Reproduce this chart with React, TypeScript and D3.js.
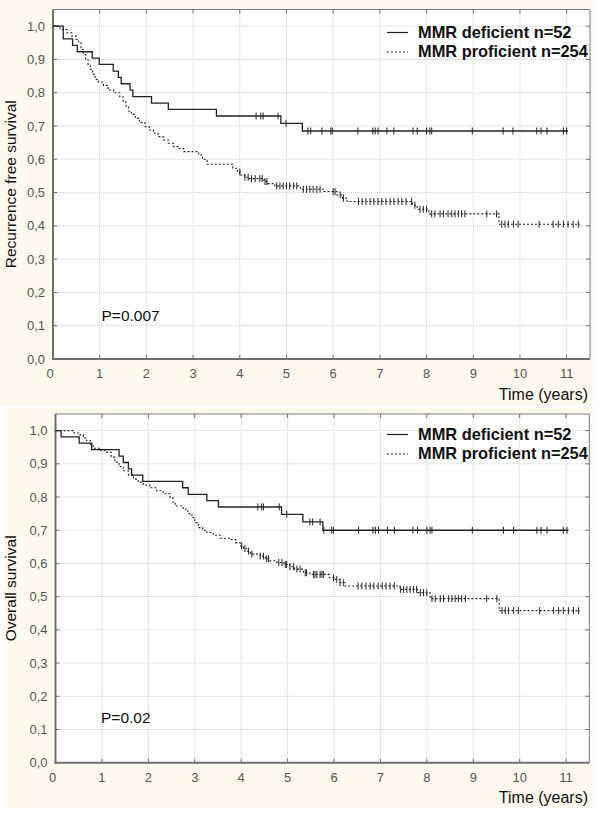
import React from "react";
import * as d3 from "d3";

// ---------- data ----------
const xTicks = [0, 1, 2, 3, 4, 5, 6, 7, 8, 9, 10, 11];
const yTicks = [0, 0.1, 0.2, 0.3, 0.4, 0.5, 0.6, 0.7, 0.8, 0.9, 1.0];
const yTickLabels = ["0,0", "0,1", "0,2", "0,3", "0,4", "0,5", "0,6", "0,7", "0,8", "0,9", "1,0"];
const seriesNames = ["MMR deficient n=52", "MMR proficient n=254"];

// Recurrence free survival - MMR deficient
const rfsDefTime = [0, 0.22, 0.42, 0.52, 0.84, 0.99, 1.29, 1.4, 1.46, 1.65, 1.71, 2.11, 2.47, 3.5, 4.88, 5.34];
const rfsDefSurv = [1.0, 0.962, 0.942, 0.923, 0.904, 0.885, 0.865, 0.846, 0.827, 0.808, 0.788, 0.769, 0.75, 0.73, 0.708, 0.685];
const rfsDefCens = [4.35, 4.45, 4.5, 4.82, 4.99, 5.46, 5.52, 5.76, 5.95, 5.98, 6.53, 6.85, 6.9, 6.96, 7.15, 7.3, 7.71, 7.8, 8.0, 8.07, 8.11, 8.98, 9.64, 9.85, 10.36, 10.45, 10.58, 10.93, 11.0];
const rfsDefEnd = 11.03;

// Recurrence free survival - MMR proficient
const rfsProTime = [0, 0.15, 0.3, 0.4, 0.5, 0.55, 0.6, 0.65, 0.7, 0.75, 0.8, 0.85, 0.9, 0.97, 1.08, 1.18, 1.3, 1.43, 1.5, 1.56, 1.62, 1.68, 1.76, 1.85, 1.97, 2.06, 2.15, 2.25, 2.36, 2.47, 2.58, 2.7, 2.8, 3.12, 3.2, 3.3, 3.85, 3.95, 4.02, 4.1, 4.2, 4.52, 4.6, 4.75, 5.3, 5.8, 6.08, 6.2, 6.3, 7.7, 7.8, 8.05, 9.55];
const rfsProSurv = [1.0, 0.99, 0.98, 0.97, 0.96, 0.95, 0.93, 0.915, 0.9, 0.885, 0.87, 0.855, 0.84, 0.832, 0.822, 0.808, 0.8, 0.788, 0.775, 0.76, 0.745, 0.735, 0.723, 0.71, 0.698, 0.688, 0.678, 0.668, 0.658, 0.648, 0.638, 0.632, 0.623, 0.613, 0.6, 0.585, 0.573, 0.562, 0.553, 0.546, 0.542, 0.533, 0.527, 0.52, 0.51, 0.503, 0.493, 0.483, 0.473, 0.462, 0.45, 0.436, 0.405];
const rfsProCens = [4.0, 4.11, 4.18, 4.25, 4.33, 4.43, 4.48, 4.54, 4.58, 4.79, 4.86, 4.93, 5.0, 5.07, 5.15, 5.22, 5.36, 5.43, 5.5, 5.57, 5.65, 5.72, 6.0, 6.04, 6.15, 6.22, 6.54, 6.62, 6.7, 6.79, 6.87, 6.96, 7.04, 7.13, 7.22, 7.3, 7.39, 7.47, 7.56, 7.68, 7.75, 7.86, 7.93, 8.0, 8.11, 8.18, 8.29, 8.36, 8.46, 8.54, 8.61, 8.68, 8.75, 8.82, 9.29, 9.5, 9.61, 9.68, 9.75, 9.86, 9.96, 10.41, 10.71, 10.82, 10.93, 11.03, 11.14, 11.25];
const rfsProEnd = 11.28;

// Overall survival - MMR deficient
const osDefTime = [0, 0.12, 0.51, 0.78, 1.37, 1.46, 1.57, 1.64, 1.88, 2.74, 2.86, 3.26, 3.51, 4.87, 5.33, 5.76];
const osDefSurv = [1.0, 0.981, 0.962, 0.943, 0.923, 0.904, 0.885, 0.866, 0.847, 0.828, 0.808, 0.789, 0.77, 0.748, 0.725, 0.7];
const osDefCens = [4.36, 4.44, 4.48, 4.82, 4.98, 5.48, 5.54, 5.7, 5.78, 5.95, 5.99, 6.53, 6.84, 6.89, 6.96, 7.15, 7.3, 7.7, 7.8, 8.0, 8.07, 8.11, 8.98, 9.65, 9.87, 10.37, 10.46, 10.59, 10.94, 11.02];
const osDefEnd = 11.05;

// Overall survival - MMR proficient
const osProTime = [0, 0.4, 0.53, 0.6, 0.67, 0.75, 0.81, 0.95, 1.1, 1.2, 1.28, 1.37, 1.46, 1.57, 1.68, 1.78, 1.89, 2.03, 2.18, 2.32, 2.47, 2.53, 2.58, 2.75, 2.85, 2.94, 3.0, 3.08, 3.17, 3.26, 3.4, 3.55, 3.76, 3.88, 3.98, 4.05, 4.12, 4.2, 4.41, 4.52, 4.6, 4.77, 4.92, 5.05, 5.15, 5.34, 5.48, 5.9, 6.0, 6.13, 6.24, 7.42, 7.8, 8.07, 9.56];
const osProSurv = [1.0, 0.993, 0.987, 0.978, 0.97, 0.958, 0.947, 0.941, 0.935, 0.92, 0.905, 0.892, 0.879, 0.866, 0.854, 0.845, 0.836, 0.828, 0.819, 0.81, 0.799, 0.785, 0.773, 0.763, 0.75, 0.738, 0.723, 0.708, 0.7, 0.693, 0.685, 0.676, 0.672, 0.662, 0.653, 0.645, 0.637, 0.628, 0.622, 0.614, 0.608, 0.603, 0.597, 0.59, 0.583, 0.572, 0.567, 0.557, 0.552, 0.542, 0.532, 0.522, 0.512, 0.494, 0.458];
const osProCens = [4.01, 4.08, 4.16, 4.23, 4.41, 4.48, 4.55, 4.59, 4.81, 4.88, 4.95, 4.98, 5.05, 5.13, 5.2, 5.27, 5.38, 5.41, 5.56, 5.59, 5.63, 5.7, 5.74, 5.77, 5.99, 6.06, 6.13, 6.2, 6.52, 6.6, 6.69, 6.78, 6.86, 6.95, 7.04, 7.12, 7.21, 7.3, 7.43, 7.5, 7.57, 7.64, 7.71, 7.78, 7.86, 7.93, 8.0, 8.11, 8.18, 8.29, 8.36, 8.47, 8.54, 8.61, 8.68, 8.75, 8.83, 9.29, 9.51, 9.62, 9.69, 9.76, 9.87, 9.97, 10.43, 10.73, 10.84, 10.94, 11.05, 11.16, 11.27];
const osProEnd = 11.3;

// ---------- drawing ----------
const FONT = "Arial, 'Liberation Sans', sans-serif";

type Series = { time: number[]; surv: number[]; cens: number[]; end: number; dashed: boolean };

type PanelProps = {
  bg: { x: number; y: number; w: number; h: number };
  plot: { left: number; top: number; right: number; bottom: number };
  yTitle: string;
  pText: string;
  pPos: [number, number];
  legendY: number;
  timeY: number;
  series: Series[];
};

function survAt(s: Series, t: number) {
  let v = s.surv[0];
  for (let i = 0; i < s.time.length; i++) if (s.time[i] <= t) v = s.surv[i];
  return v;
}

function Panel(p: PanelProps) {
  const { plot } = p;
  const x = d3.scaleLinear().domain([0, 11.5]).range([plot.left, plot.right]);
  const y = d3.scaleLinear().domain([0, 1.05]).range([plot.bottom, plot.top]);
  const line = d3
    .line<[number, number]>()
    .x((d) => x(d[0]))
    .y((d) => y(d[1]))
    .curve(d3.curveStepAfter);
  return (
    <g>
      <rect x={p.bg.x} y={p.bg.y} width={p.bg.w} height={p.bg.h} fill="#fdf9ee" />
      <rect x={plot.left} y={plot.top} width={plot.right - plot.left} height={plot.bottom - plot.top} fill="#ffffff" />
      {/* grid */}
      {xTicks.filter((t) => t > 0).map((t) => (
        <line key={"gx" + t} x1={x(t)} x2={x(t)} y1={plot.top} y2={plot.bottom} stroke="#cfcfcf" strokeWidth={1} strokeDasharray="1,1" />
      ))}
      {yTicks.filter((t) => t > 0).map((t) => (
        <line key={"gy" + t} x1={plot.left} x2={plot.right} y1={y(t)} y2={y(t)} stroke="#cfcfcf" strokeWidth={1} strokeDasharray="1,1" />
      ))}
      {/* frame */}
      <line x1={plot.left} x2={plot.right} y1={plot.top} y2={plot.top} stroke="#7a7a7a" strokeWidth={1} />
      <line x1={plot.right} x2={plot.right} y1={plot.top} y2={plot.bottom} stroke="#7a7a7a" strokeWidth={1} />
      <line x1={plot.left} x2={plot.left} y1={plot.top} y2={plot.bottom + 1} stroke="#707070" strokeWidth={2} />
      <line x1={plot.left - 1} x2={plot.right} y1={plot.bottom} y2={plot.bottom} stroke="#707070" strokeWidth={2} />
      {/* inward ticks */}
      {xTicks.filter((t) => t > 0).map((t) => (
        <g key={"tx" + t}>
          <line x1={x(t)} x2={x(t)} y1={plot.bottom} y2={plot.bottom - 4} stroke="#707070" />
          <line x1={x(t)} x2={x(t)} y1={plot.top} y2={plot.top + 4} stroke="#707070" />
        </g>
      ))}
      {yTicks.filter((t) => t > 0).map((t) => (
        <g key={"ty" + t}>
          <line x1={plot.right} x2={plot.right - 4} y1={y(t)} y2={y(t)} stroke="#707070" />
          <line x1={plot.left} x2={plot.left + 4} y1={y(t)} y2={y(t)} stroke="#707070" />
        </g>
      ))}
      {/* tick labels */}
      {yTicks.map((t, i) => (
        <text key={"ly" + t} x={plot.left - 8} y={y(t)} dy="0.35em" textAnchor="end" fontFamily={FONT} fontSize={13} fill="#555">
          {yTickLabels[i]}
        </text>
      ))}
      {xTicks.map((t) => (
        <text key={"lx" + t} x={x(t) - (t === 0 ? 3 : 0)} y={plot.bottom + 19} textAnchor="middle" fontFamily={FONT} fontSize={13} fill="#555">
          {t}
        </text>
      ))}
      {/* axis titles */}
      <text
        transform={`translate(16,${(plot.top + plot.bottom) / 2}) rotate(-90)`}
        textAnchor="middle"
        fontFamily={FONT}
        fontSize={15.5}
        fill="#111"
      >
        {p.yTitle}
      </text>
      <text x={588} y={p.timeY} textAnchor="end" fontFamily={FONT} fontSize={16} fill="#111">
        Time (years)
      </text>
      <text x={p.pPos[0]} y={p.pPos[1]} fontFamily={FONT} fontSize={15.5} fill="#111">
        {p.pText}
      </text>
      {/* curves */}
      {p.series.map((s, i) => {
        const pts: [number, number][] = s.time.map((t, j) => [t, s.surv[j]] as [number, number]);
        pts.push([s.end, s.surv[s.surv.length - 1]]);
        return (
          <g key={"s" + i}>
            <path
              d={line(pts) || ""}
              fill="none"
              stroke="#222"
              strokeWidth={s.dashed ? 1.1 : 1.3}
              strokeDasharray={s.dashed ? "2,2" : undefined}
            />
            {s.cens.map((c, k) => (
              <line key={k} x1={x(c)} x2={x(c)} y1={y(survAt(s, c)) - 3.5} y2={y(survAt(s, c)) + 3.5} stroke="#222" strokeWidth={1} />
            ))}
          </g>
        );
      })}
      {/* legend */}
      {seriesNames.map((n, i) => (
        <g key={"lg" + i}>
          <line
            x1={387}
            x2={408}
            y1={p.legendY + i * 19.5 - 5}
            y2={p.legendY + i * 19.5 - 5}
            stroke="#222"
            strokeWidth={1.2}
            strokeDasharray={i === 1 ? "2,2" : undefined}
          />
          <text x={418} y={p.legendY + i * 19.5} fontFamily={FONT} fontSize={16.4} fontWeight="bold" fill="#111">
            {n}
          </text>
        </g>
      ))}
    </g>
  );
}

export default function App() {
  const top: Series[] = [
    { time: rfsDefTime, surv: rfsDefSurv, cens: rfsDefCens, end: rfsDefEnd, dashed: false },
    { time: rfsProTime, surv: rfsProSurv, cens: rfsProCens, end: rfsProEnd, dashed: true },
  ];
  const bottom: Series[] = [
    { time: osDefTime, surv: osDefSurv, cens: osDefCens, end: osDefEnd, dashed: false },
    { time: osProTime, surv: osProSurv, cens: osProCens, end: osProEnd, dashed: true },
  ];
  return (
    <svg width={600} height={824} style={{ position: "absolute", left: 0, top: 0, background: "#fff" }}>
      <Panel
        bg={{ x: 0, y: 0, w: 595, h: 405 }}
        plot={{ left: 53, top: 9.5, right: 590, bottom: 359 }}
        yTitle="Recurrence free survival"
        pText="P=0.007"
        pPos={[101.5, 320.5]}
        legendY={37.5}
        timeY={399.5}
        series={top}
      />
      <Panel
        bg={{ x: 5, y: 408, w: 590, h: 400 }}
        plot={{ left: 55.5, top: 414, right: 589.3, bottom: 762.7 }}
        yTitle="Overall survival"
        pText="P=0.02"
        pPos={[101, 723]}
        legendY={439.5}
        timeY={803}
        series={bottom}
      />
    </svg>
  );
}
